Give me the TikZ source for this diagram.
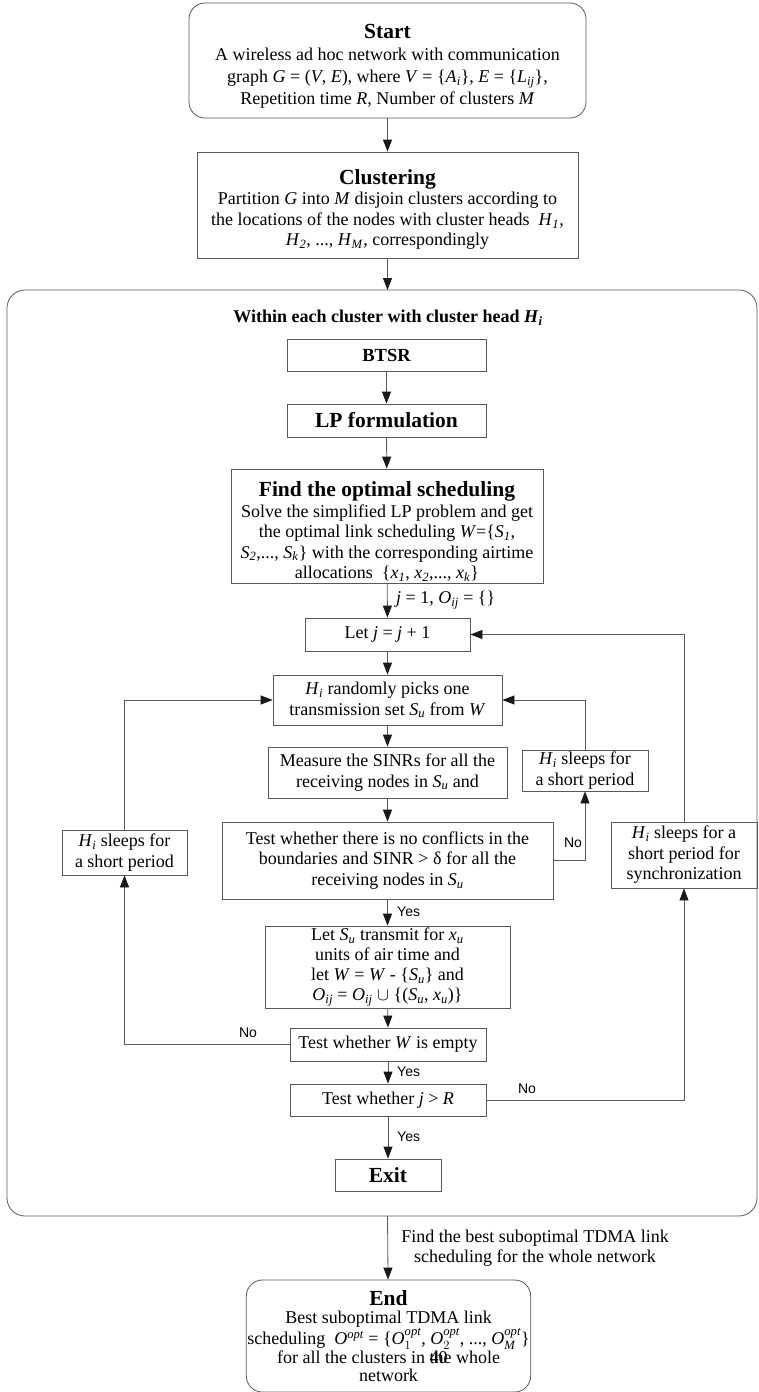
\documentclass[tikz,border=0pt]{standalone}
\usepackage{fix-cm}
\usepackage{amsmath}
\usepackage{fontspec}
\setmainfont{Liberation Serif}
\newfontfamily\labfont{Liberation Sans}
\usetikzlibrary{arrows.meta}
\newcommand\mi[1]{\textit{#1}}
\newcommand\sbs[1]{\textsubscript{\textit{#1}}}
\newcommand\hd[1]{{\fontsize{21.5}{24}\selectfont\bfseries #1}}
\begin{document}
\begin{tikzpicture}[x=1pt,y=-1pt,
  line/.style={draw=black!65, line width=0.8pt},
  arr/.style={line, -{Triangle[length=12pt,width=9pt,color=black!90]}},
  box/.style={draw=black!65, line width=0.8pt, align=center, inner sep=1pt, font=\fontsize{18}{20.5}\selectfont},
  rbox/.style={box, rounded corners=16pt},
  lab/.style={font=\labfont\fontsize{14}{16}\selectfont, inner sep=0pt},
  txt/.style={align=center, inner sep=0pt, font=\fontsize{18}{20.5}\selectfont}]
\useasboundingbox (0,0) rectangle (759,1392);

% outer container
\draw[line, rounded corners=18pt] (7,290) rectangle (757,1216);
\coordinate (otop) at (387.5,290);
\coordinate (obot) at (387.5,1216);

\node[rbox, minimum width=397pt, minimum height=115pt, font=\fontsize{18}{21.8}\selectfont] (start) at (387.5,60.5)
 {\rule{0pt}{26pt}\hd{Start}\\
  A wireless ad hoc network with communication\\
  graph \mi{G} = (\mi{V}, \mi{E}), where \mi{V} = \{\mi{A}\sbs{i}\}, \mi{E} = \{\mi{L}\sbs{ij}\},\\
  Repetition time \mi{R}, Number of clusters \mi{M}};

\node[box, minimum width=381pt, minimum height=106pt] (clust) at (387.5,205)
 {\rule{0pt}{24pt}\hd{Clustering}\\
  Partition \mi{G} into \mi{M} disjoin clusters according to\\
  the locations of the nodes with cluster heads \ \mi{H}\sbs{1},\\
  \mi{H}\sbs{2}, ..., \mi{H}\sbs{M}, correspondingly};

\node[txt, font=\fontsize{18}{20}\selectfont\bfseries] (within) at (388,318) {Within each cluster with cluster head \mi{H}\sbs{i}};

\node[box, minimum width=199pt, minimum height=32pt] (btsr) at (386.5,355) {\fontsize{18.5}{20}\selectfont\bfseries BTSR};
\node[box, minimum width=199pt, minimum height=33pt] (lp) at (386.5,420.5) {\hd{LP formulation}};

\node[box, minimum width=312pt, minimum height=114pt] (find) at (387,526)
 {\rule{0pt}{26pt}\hd{Find the optimal scheduling}\\
  Solve the simplified LP problem and get\\
  the optimal link scheduling \mi{W}=\{\mi{S}\sbs{1},\\
  \mi{S}\sbs{2},..., \mi{S}\sbs{k}\} with the corresponding airtime\\
  allocations \ \{\mi{x}\sbs{1}, \mi{x}\sbs{2},..., \mi{x}\sbs{k}\}};

\node[box, minimum width=165pt, minimum height=33pt] (letj) at (387.5,634.5) {Let \mi{j} = \mi{j} + 1};

\node[box, minimum width=229pt, minimum height=50pt] (pick) at (387.5,700)
 {\mi{H}\sbs{i} randomly picks one\\ transmission set \mi{S}\sbs{u} from \mi{W}};

\node[box, minimum width=239pt, minimum height=51pt] (meas) at (387.5,772.5)
 {Measure the SINRs for all the\\ receiving nodes in \mi{S}\sbs{u} and};

\node[box, minimum width=331pt, minimum height=77pt] (test) at (387.5,860.5)
 {Test whether there is no conflicts in the\\ boundaries and SINR > δ for all the\\ receiving nodes in \mi{S}\sbs{u}};

\node[box, minimum width=125pt, minimum height=45pt] (sleepL) at (124.5,852.5)
 {\mi{H}\sbs{i} sleeps for\\ a short period};

\node[box, minimum width=126pt, minimum height=41pt] (sleepM) at (585,770.5)
 {\mi{H}\sbs{i} sleeps for\\ a short period};

\node[box, minimum width=146pt, minimum height=66pt] (sync) at (684,855)
 {\mi{H}\sbs{i} sleeps for a\\ short period for\\ synchronization};

\node[box, minimum width=245pt, minimum height=82pt, font=\fontsize{18}{20}\selectfont] (trans) at (387.5,967)
 {Let \mi{S}\sbs{u} transmit for \mi{x}\sbs{u}\\
  units of air time and\\
  let \mi{W} = \mi{W} - \{\mi{S}\sbs{u}\} and\\
  \mi{O}\sbs{ij} = \mi{O}\sbs{ij} $\cup$ \{(\mi{S}\sbs{u}, \mi{x}\sbs{u})\}};

\node[box, minimum width=196pt, minimum height=33pt] (testW) at (388,1044.5) {Test whether \mi{W} is empty};
\node[box, minimum width=196pt, minimum height=32pt] (testR) at (388,1100) {Test whether \mi{j} > \mi{R}};
\node[box, minimum width=106pt, minimum height=32pt] (exit) at (388,1175) {\hd{Exit}};

\node[rbox, minimum width=283pt, minimum height=112pt, font=\fontsize{18}{18.5}\selectfont] (end) at (388.5,1336)
 {\hd{End}\\
  Best suboptimal TDMA link\\
  scheduling \ \mi{O}$^{\textit{opt}}$ = \{\mi{O}$^{\textit{opt}}_{1}$, \mi{O}$^{\textit{opt}}_{2}$, ..., \mi{O}$^{\textit{opt}}_{\textit{M}}$\}\\
  for all the clusters in \makebox[0pt][l]{\fontsize{18}{18}\selectfont 40}the whole\\
  network};

% labels
\node[txt, anchor=west] (l1) at (396,600) {\mi{j} = 1, \mi{O}\sbs{ij} = \{\}};
\node[lab] (no1) at (573,843) {No};
\node[lab, anchor=west] (yes1) at (397,912) {Yes};
\node[lab] (no2) at (248,1033) {No};
\node[lab, anchor=west] (yes2) at (397,1072) {Yes};
\node[lab] (no3) at (527,1089) {No};
\node[lab, anchor=west] (yes3) at (397,1137) {Yes};
\node[txt] (fl) at (535,1248) {Find the best suboptimal TDMA link\\ scheduling for the whole network};

% connectors
\draw[arr] (start) -- (clust);
\draw[arr] (clust) -- (otop);
\draw[arr] (btsr) -- (lp);
\draw[arr] (lp) -- (find);
\draw[arr] (find) -- (letj);
\draw[arr] (letj) -- (pick);
\draw[arr] (pick) -- (meas);
\draw[arr] (meas) -- (test);
\draw[arr] (test) -- (trans);
\draw[arr] (trans) -- (testW);
\draw[arr] (testW) -- (testR);
\draw[arr] (testR) -- (exit);
\draw[arr] (obot) -- (end);

\draw[arr] (test.east) -| (sleepM.south);
\draw[arr] (sleepM.north) |- (pick.east);
\draw[arr] (testW.west) -| (sleepL.south);
\draw[arr] (sleepL.north) |- (pick.west);
\draw[arr] (testR.east) -| (sync.south);
\draw[arr] (sync.north) |- (letj.east);
\end{tikzpicture}
\end{document}
